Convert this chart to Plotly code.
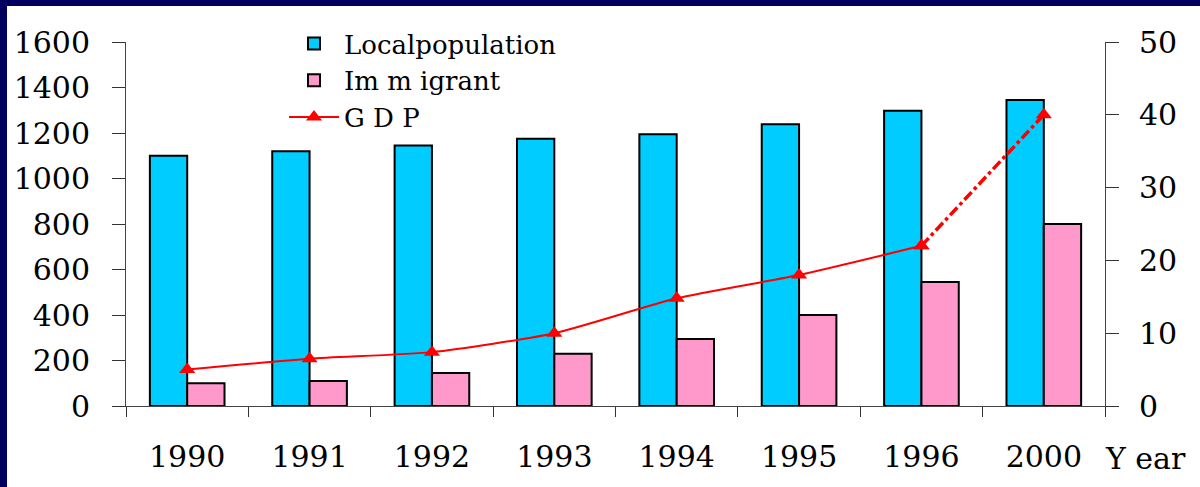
import plotly.graph_objects as go

years = ["1990", "1991", "1992", "1993", "1994", "1995", "1996", "2000"]
local_population = [1100, 1120, 1145, 1175, 1195, 1238, 1298, 1345]
immigrant = [100, 110, 145, 230, 295, 400, 545, 800]
gdp = [5.0, 6.5, 7.4, 10.0, 14.8, 18.0, 22.0, 40.0]

serif = "DejaVu Serif"

fig = go.Figure()
fig.add_trace(go.Bar(x=years, y=local_population, name="Localpopulation",
                     marker=dict(color="#00CCFF", line=dict(color="black", width=2))))
fig.add_trace(go.Bar(x=years, y=immigrant, name="Im m igrant",
                     marker=dict(color="#FF99CC", line=dict(color="black", width=2))))
fig.add_trace(go.Scatter(x=years[:7], y=gdp[:7], name="G D P", yaxis="y2",
                         mode="lines+markers", line=dict(color="red", width=2, shape="spline", smoothing=0.6),
                         marker=dict(symbol="triangle-up", size=14, color="red")))
fig.add_trace(go.Scatter(x=years[6:], y=gdp[6:], name="G D P", yaxis="y2", showlegend=False,
                         mode="lines+markers", line=dict(color="red", width=3.5, dash="dashdot"),
                         marker=dict(symbol="triangle-up", size=14, color="red")))

W, H = 1200, 487
L, R, T, B = 126, 1105, 42, 406
pw, ph = R - L, B - T

def px(x):
    return (x - L) / pw

def py(y):
    return (B - y) / ph

fig.add_shape(type="rect", xref="paper", yref="paper", x0=px(7), x1=px(1200), y0=py(487), y1=py(6),
              fillcolor="white", line=dict(width=0), layer="below")

fig.update_layout(
    width=W, height=H,
    margin=dict(l=L, r=W - R, t=T, b=H - B, pad=0),
    paper_bgcolor="#00005E", plot_bgcolor="white",
    barmode="group", bargap=0.39, bargroupgap=0,
    font=dict(family=serif, color="black"),
    showlegend=True,
    legend=dict(x=px(284), y=py(20), xanchor="left", yanchor="top", bgcolor="rgba(0,0,0,0)",
                font=dict(family=serif, size=26), tracegroupgap=0, itemwidth=50),
    xaxis=dict(type="category", categoryarray=years, range=[-0.5, 7.5], tickson="boundaries",
               ticks="outside", ticklen=10, tickcolor="#333", showline=True, linecolor="#444", linewidth=1,
               showgrid=False, tickfont=dict(family=serif, size=30), ticklabelstandoff=24, zeroline=False),
    xaxis2=dict(overlaying="x", range=[-0.5, 7.5], tick0=-0.5, dtick=1, ticks="inside", ticklen=11,
                tickcolor="#333", showticklabels=False, showgrid=False, zeroline=False, showline=False),
    yaxis=dict(range=[0, 1600], dtick=200, ticks="outside", ticklen=13, tickcolor="#333",
               showline=True, linecolor="#444", linewidth=1, showgrid=False, zeroline=False,
               tickfont=dict(family=serif, size=30), ticklabelstandoff=16),
    yaxis2=dict(overlaying="y", side="right", range=[0, 50], dtick=10, ticks="outside", ticklen=13,
                tickcolor="#333", showline=True, linecolor="#444", linewidth=1, showgrid=False,
                zeroline=False, tickfont=dict(family=serif, size=30), ticklabelstandoff=14),
    yaxis3=dict(overlaying="y", side="left", range=[0, 1600], dtick=200, ticks="inside", ticklen=12,
                tickcolor="#333", showticklabels=False, showgrid=False, zeroline=False, showline=False),
    yaxis4=dict(overlaying="y", side="right", range=[0, 50], dtick=10, ticks="inside", ticklen=12,
                tickcolor="#333", showticklabels=False, showgrid=False, zeroline=False, showline=False),
    annotations=[dict(text="Y ear", xref="paper", yref="paper", x=px(1103), y=py(458),
                      xanchor="left", yanchor="middle", showarrow=False,
                      font=dict(family=serif, size=30, color="black"))],
)

fig.write_html("out.html", config={"displayModeBar": False},
               post_script="document.body.style.margin='0';document.body.style.overflow='hidden';")
